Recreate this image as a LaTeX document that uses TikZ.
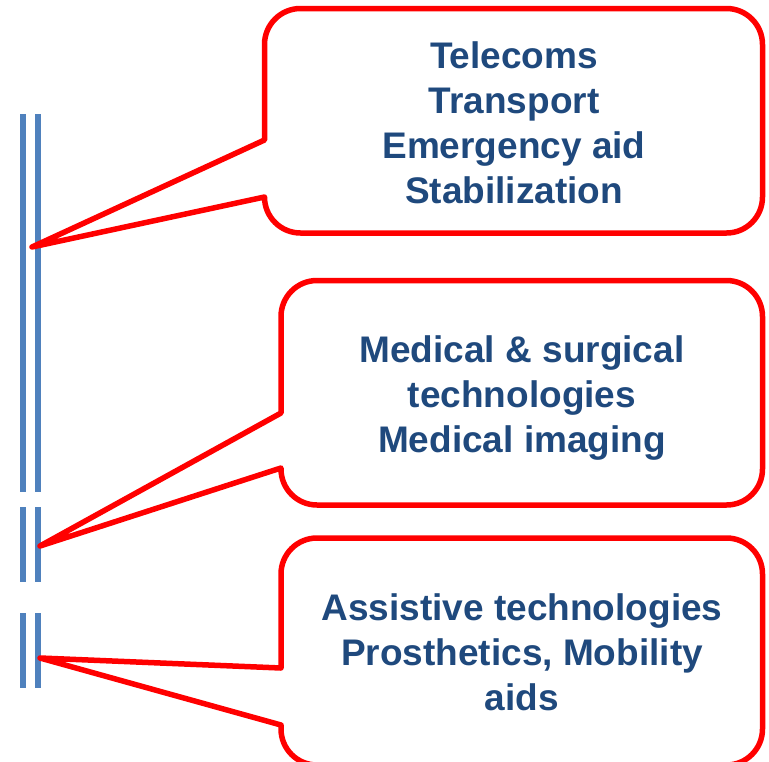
\documentclass[tikz,border=0pt]{standalone}
\usepackage{fontspec}
\setmainfont{Liberation Sans}
\definecolor{callred}{HTML}{FF0000}
\definecolor{barblue}{HTML}{4F81BD}
\definecolor{textblue}{HTML}{1F497D}

% Rounded speech bubble with a wedge pointer on its left side.
% #1 left, #2 top, #3 right, #4 bottom, #5 upper join, #6 lower join,
% #7 pointer tip, #8 corner radius
\newcommand\bubblepath[8]{%
  \draw[bubble] (#1,#5) -- (#1,#2+#8)
    arc[start angle=180,end angle=270,radius=#8] -- (#3-#8,#2)
    arc[start angle=270,end angle=360,radius=#8] -- (#3,#4-#8)
    arc[start angle=0,end angle=90,radius=#8] -- (#1+#8,#4)
    arc[start angle=90,end angle=180,radius=#8] -- (#1,#6)
    -- (#7) -- cycle;}

\begin{document}
\begin{tikzpicture}[x=1pt,y=-1pt,
  bar/.style={draw=barblue, line width=5.5pt},
  bubble/.style={draw=callred, line width=5.5pt, line join=round},
  blurb/.style={font=\fontsize{37}{45}\selectfont\bfseries, text=textblue,
                align=center, anchor=base, inner sep=0pt}]

\useasboundingbox (0,0) rectangle (769,761);
\clip (0,0) rectangle (769,761);

% double timeline bars
\foreach \x in {23,38} {
  \draw[bar] (\x,114) -- (\x,492);
  \draw[bar] (\x,507) -- (\x,582);
  \draw[bar] (\x,613) -- (\x,688);
}

% pointer tips
\coordinate (tip1) at (32,247);
\coordinate (tip2) at (40,546);
\coordinate (tip3) at (40,658);

% bubbles
\bubblepath{264.5}{8.5}{762.5}{233}{140}{197}{tip1}{36}
\bubblepath{281}{280.5}{762.5}{505}{413}{468}{tip2}{36}
\bubblepath{281}{538}{762.5}{765}{668}{725}{tip3}{36}

% texts (anchored at the baseline of the last line)
\node[blurb] (t1) at (514,203) {Telecoms\\Transport\\Emergency aid\\Stabilization};
\node[blurb] (t2) at (522,452) {Medical \& surgical\\technologies\\Medical imaging};
\node[blurb] (t3) at (522,710) {Assistive technologies\\Prosthetics, Mobility\\aids};
\end{tikzpicture}
\end{document}
